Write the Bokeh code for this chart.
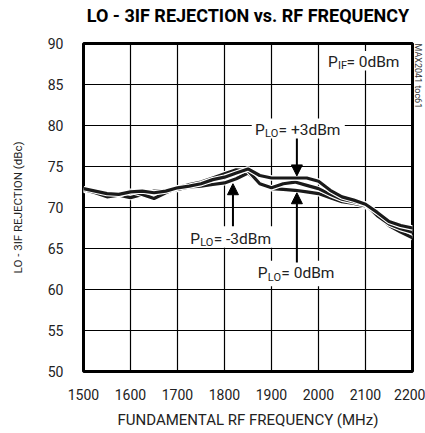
import math
from bokeh.plotting import figure
from bokeh.models import FixedTicker, Label, Arrow, NormalHead, Range1d, Title
from bokeh.embed import file_html
from bokeh.resources import INLINE

# ---- data ----
freq = [1500, 1525, 1550, 1575, 1600, 1625, 1650, 1675, 1700, 1725, 1750, 1775, 1800, 1825, 1850,
        1875, 1900, 1925, 1950, 1975, 2000, 2025, 2050, 2075, 2100, 2125, 2150, 2175, 2200]
rej_plo_p3 = [72.3, 72.0, 71.7, 71.6, 71.9, 72.0, 71.8, 72.0, 72.4, 72.6, 72.9, 73.4, 73.7, 74.2, 74.7,
              73.9, 73.6, 73.6, 73.6, 73.6, 73.2, 72.1, 71.3, 70.9, 70.4, 69.4, 68.3, 67.8, 67.5]
rej_plo_0 = [72.2, 71.8, 71.3, 71.5, 72.0, 71.6, 71.1, 71.8, 72.4, 72.8, 73.1, 73.6, 74.1, 74.6, 74.5,
             72.9, 72.4, 72.9, 73.1, 72.7, 72.3, 71.6, 71.0, 70.7, 70.4, 69.0, 68.0, 67.4, 67.0]
rej_plo_m3 = [72.1, 71.9, 71.8, 71.5, 71.2, 71.6, 72.0, 72.0, 72.2, 72.5, 72.6, 72.8, 73.0, 73.5, 74.2,
              73.0, 72.3, 72.2, 72.1, 71.9, 71.7, 71.2, 70.7, 70.5, 70.2, 69.0, 67.8, 67.0, 66.3]
x_ticks = [1500, 1600, 1700, 1800, 1900, 2000, 2100, 2200]
y_ticks = [50, 55, 60, 65, 70, 75, 80, 85, 90]

FONT = "Roboto"
TXT = "#222222"

p = figure(width=425, height=433, output_backend="svg", toolbar_location=None,
           x_range=Range1d(1500, 2200), y_range=Range1d(50, 90),
           min_border_left=83, min_border_right=12, min_border_top=43, min_border_bottom=62)
p.background_fill_color = None
p.border_fill_color = "white"

# spacer title (nearest the frame) + main title above it
spacer = Title(text=" ", text_font=FONT, text_font_size="10px", standoff=4)
main_title = Title(text="LO - 3IF REJECTION vs. RF FREQUENCY", align="center",
                   text_font=FONT, text_font_style="bold", text_font_size="18px",
                   text_color="black", standoff=2)
p.add_layout(spacer, "above")
p.add_layout(main_title, "above")

# small vertical note at the right of the frame
side_note = Title(text="MAX2041 toc61", align="left", text_font=FONT, text_font_size="9px",
                  text_font_style="normal", text_color="#333333", standoff=1, offset=0)
p.add_layout(side_note, "right")

p.outline_line_color = "black"
p.outline_line_width = 3
p.outline_line_alpha = 1

for ax in (p.xaxis[0], p.yaxis[0]):
    ax.axis_line_color = None
    ax.major_tick_line_color = None
    ax.minor_tick_line_color = None
    ax.major_tick_out = 0
    ax.major_tick_in = 0
    ax.major_label_text_font = FONT
    ax.major_label_text_font_size = "14px"
    ax.major_label_text_color = TXT
    ax.axis_label_text_font = FONT
    ax.axis_label_text_font_style = "normal"
    ax.axis_label_text_color = TXT

p.xaxis.ticker = FixedTicker(ticks=x_ticks)
p.yaxis.ticker = FixedTicker(ticks=y_ticks)
p.xaxis.axis_label = "FUNDAMENTAL RF FREQUENCY (MHz)"
p.yaxis.axis_label = "LO - 3IF REJECTION (dBc)"
p.xaxis.axis_label_text_font_size = "15px"
p.yaxis.axis_label_text_font_size = "11.5px"
p.xaxis.major_label_standoff = 17
p.xaxis.axis_label_standoff = 8
p.yaxis.major_label_standoff = 20
p.yaxis.axis_label_standoff = 20

p.xgrid.grid_line_color = "black"
p.ygrid.grid_line_color = "black"
p.xgrid.grid_line_width = 1.2
p.ygrid.grid_line_width = 1.2
p.xgrid.grid_line_alpha = 1.0
p.ygrid.grid_line_alpha = 1.0

# curves with white edge
for series in (rej_plo_m3, rej_plo_0, rej_plo_p3):
    p.line(freq, series, line_color="white", line_width=5.5)
    p.line(freq, series, line_color="#1a1a1a", line_width=3.2)

# white boxes behind annotation texts
box_left = [2013, 1858, 1723, 1865]
box_right = [2193, 2056, 1920, 2050]
box_top = [89.1, 80.85, 67.7, 63.5]
box_bottom = [86.7, 78.4, 65.1, 60.4]
p.quad(left=box_left, right=box_right, top=box_top, bottom=box_bottom,
       fill_color="white", line_color=None)

def sub_label(x, y, main, sub, rest, w_main, w_sub):
    common = dict(x=x, y=y, text_font=FONT, text_color=TXT, text_baseline="middle",
                  text_align="left")
    p.add_layout(Label(text=main, text_font_size="15.5px", **common))
    p.add_layout(Label(text=sub, text_font_size="11px", x_offset=w_main, y_offset=-4, **common))
    p.add_layout(Label(text=rest, text_font_size="15.5px", x_offset=w_main + w_sub, **common))

sub_label(2020, 87.8, "P", "IF", " = 0dBm", 10, 8.5)
sub_label(1865, 79.5, "P", "LO", " = +3dBm", 10, 13.5)
sub_label(1727, 66.2, "P", "LO", " = -3dBm", 10, 13.5)
sub_label(1871, 62.0, "P", "LO", " =  0dBm", 10, 13.5)

# arrows
arrow_x = [1954, 1818, 1954]
arrow_y0 = [78.4, 67.7, 63.3]
arrow_y1 = [73.85, 72.9, 71.8]
for ax_, y0, y1 in zip(arrow_x, arrow_y0, arrow_y1):
    p.add_layout(Arrow(end=NormalHead(size=11, fill_color="black", line_color="black", line_width=1),
                       x_start=ax_, y_start=y0, x_end=ax_, y_end=y1,
                       line_color="black", line_width=2))

open("out.html", "w").write(file_html(p, INLINE))
